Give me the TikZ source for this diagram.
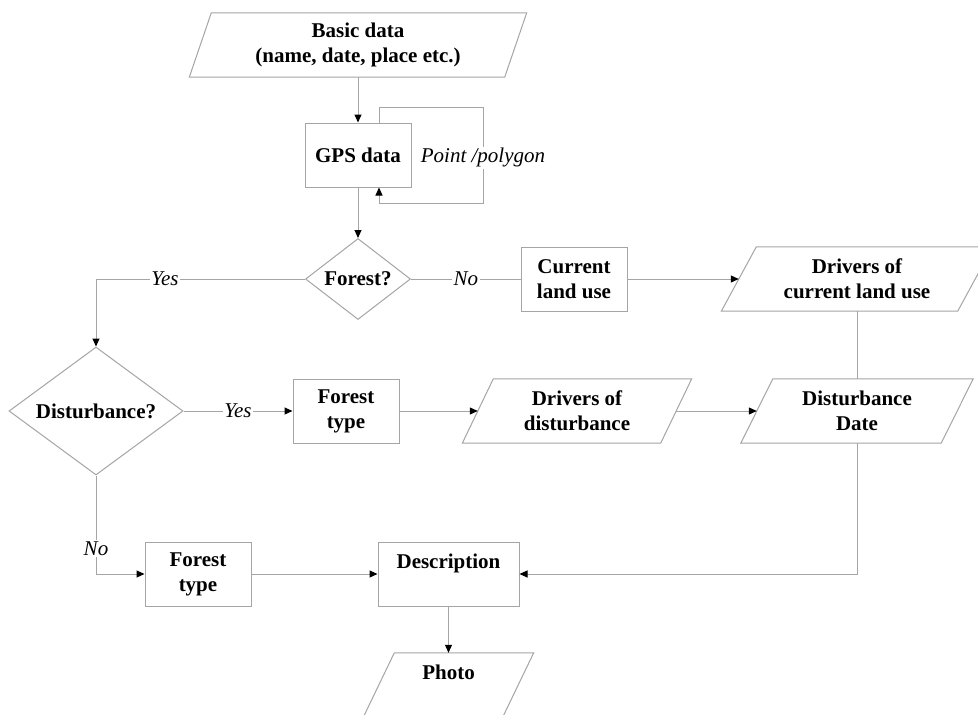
\documentclass[tikz,border=0pt]{standalone}
\usepackage{fontspec}
\setmainfont{Liberation Serif}
\usetikzlibrary{arrows.meta,shapes.geometric,calc}
\definecolor{linegray}{RGB}{165,165,165}

\tikzset{
  stroke/.style={draw=linegray, line width=1pt},
  txt/.style={font=\fontsize{21}{25}\selectfont\bfseries, align=center, inner sep=0pt},
  procbox/.style={rectangle, stroke, txt, minimum width=106pt, minimum height=64pt},
  iobox/.style={rectangle, txt, minimum height=64pt},
  decision/.style={diamond, stroke, txt, aspect=1.3},
  toptext/.style={text height=26pt, text depth=38pt},
  conn/.style={draw=linegray, line width=1pt},
  flow/.style={conn, -{Triangle[length=8pt,width=7pt,color=black]}},
  lab/.style={font=\fontsize{21}{25}\selectfont\itshape, fill=white, inner sep=1.5pt},
}

% outline of an input/output block: a parallelogram around the node box
\newcommand\slantframe[2]{%
  \draw[stroke] ([xshift=#2]#1.north west) -- ([xshift=#2]#1.north east)
    -- ([xshift=-#2]#1.south east) -- ([xshift=-#2]#1.south west) -- cycle;}

\begin{document}
\begin{tikzpicture}[x=1pt,y=-1pt]
\useasboundingbox[fill=white] (0,0) rectangle (978,715);

% blocks
\node[iobox, minimum width=315pt] (bd) at (358,45) {Basic data\\(name, date, place etc.)};
\node[procbox] (gps) at (358,155) {GPS data};
\node[decision, minimum width=105pt, minimum height=81pt] (forest) at (358,279) {Forest?};
\node[procbox] (cur) at (574,279) {Current\\land use};
\node[iobox, minimum width=236pt] (dcl) at (857,279) {Drivers of\\current land use};
\node[decision, minimum width=174pt, minimum height=128pt] (dist) at (96,411) {Disturbance?};
\node[procbox] (ft1) at (346,411) {Forest\\type};
\node[iobox, minimum width=198pt] (dod) at (577,411) {Drivers of\\disturbance};
\node[iobox, minimum width=200pt] (dd) at (857,411) {Disturbance\\Date};
\node[procbox] (ft2) at (198,574) {Forest\\type};
\node[procbox, minimum width=141pt, toptext] (desc) at (448.5,574) {Description};
\node[iobox, minimum width=139pt, toptext] (photo) at (448.5,685) {Photo};

\slantframe{bd}{11pt}
\slantframe{dcl}{17.5pt}
\slantframe{dod}{15.5pt}
\slantframe{dd}{16pt}
\slantframe{photo}{15.5pt}

% corners of the GPS feedback loop
\coordinate (lp1) at (483,107);
\coordinate (lp2) at (483,203);

% connectors
\draw[flow] (bd.south) -- (gps.north);
\draw[flow] ([xshift=21pt]gps.north) |- (lp1) -- node[lab, pos=0.53] {Point /polygon} (lp2) -| ([xshift=21pt]gps.south);
\draw[flow] (gps.south) -- (forest.north);
\draw[flow] (forest.west) -| node[lab, pos=0.335] {Yes} (dist.north);
\draw[conn] (forest.east) -- node[lab] {No} (cur.west);
\draw[flow] (cur.east) -- (dcl.west);
\draw[conn] (dcl.south) -- (dd.north);
\draw[flow] (dist.east) -- node[lab] {Yes} (ft1.west);
\draw[flow] (ft1.east) -- (dod.west);
\draw[flow] (dod.east) -- (dd.west);
\draw[flow] (dist.south) |- node[lab, pos=0.372] {No} (ft2.west);
\draw[flow] (ft2.east) -- (desc.west);
\draw[flow] (dd.south) |- (desc.east);
\draw[flow] (desc.south) -- (photo.north);
\end{tikzpicture}
\end{document}
